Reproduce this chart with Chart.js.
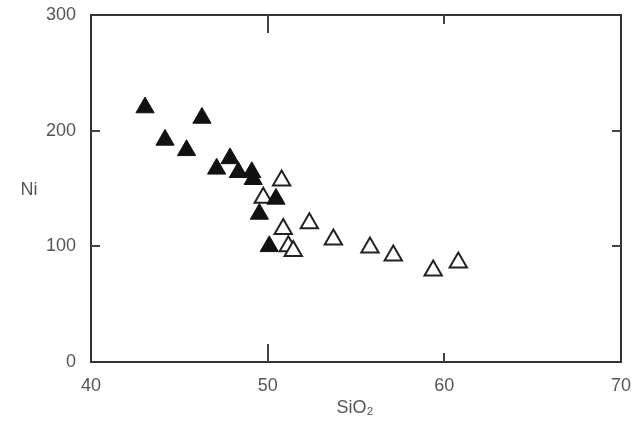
<!DOCTYPE html>
<html>
<head>
<meta charset="utf-8">
<script src="https://cdn.jsdelivr.net/npm/chart.js@4"></script>
<style>
  html, body { margin: 0; padding: 0; background: #fff; }
  #wrap { width: 642px; height: 425px; position: relative; }
</style>
</head>
<body>
<div id="wrap"><canvas id="c" width="642" height="425"></canvas></div>
<script>
// Filled triangles (group 1)
const filledSiO2 = [43.06, 46.28, 44.19, 45.41, 47.11, 47.87, 48.34, 49.1, 49.18, 50.47, 49.53, 50.09];
const filledNi   = [220,   211,   192,   183,   167,   176,   164,   164,  158,   141,   128,   100];
// Open triangles (group 2)
const openSiO2 = [50.79, 49.75, 50.88, 52.36, 51.17, 51.45, 53.72, 55.79, 57.11, 59.37, 60.79];
const openNi   = [157,   142,   115,   120,   100,   96,    106,   99,    92,    79,    86];
// Axis ticks
const xTicks = [40, 50, 60, 70];
const yTicks = [0, 100, 200, 300];
const xTitle = 'SiO₂';
const yTitle = 'Ni';

const toPts = (xs, ys) => xs.map((x, i) => ({ x: x, y: ys[i] }));

const frame = {
  id: 'frame',
  afterDraw(chart) {
    const { ctx, chartArea: a, scales } = chart;
    ctx.save();
    ctx.strokeStyle = '#333';
    ctx.lineWidth = 2;
    ctx.strokeRect(a.left, a.top, a.right - a.left, a.bottom - a.top);
    ctx.lineWidth = 2;
    ctx.strokeStyle = '#444';
    xTicks.slice(1, -1).forEach(v => {
      const px = Math.round(scales.x.getPixelForValue(v));
      const len = v === 50 ? 18 : 9;
      ctx.beginPath();
      ctx.moveTo(px, a.bottom); ctx.lineTo(px, a.bottom - len);
      ctx.moveTo(px, a.top); ctx.lineTo(px, a.top + len);
      ctx.stroke();
    });
    yTicks.slice(1, -1).forEach(v => {
      const py = Math.round(scales.y.getPixelForValue(v));
      ctx.beginPath();
      ctx.moveTo(a.left, py); ctx.lineTo(a.left + 9, py);
      ctx.moveTo(a.right, py); ctx.lineTo(a.right - 9, py);
      ctx.stroke();
    });
    ctx.fillStyle = '#555';
    ctx.font = '18px "Liberation Sans", Arial, sans-serif';
    ctx.textAlign = 'center';
    ctx.textBaseline = 'middle';
    ctx.fillText(yTitle, 29, 190);
    ctx.fillText(xTitle, 355, 408);
    ctx.restore();
  }
};

new Chart(document.getElementById('c'), {
  type: 'scatter',
  data: {
    datasets: [
      {
        label: 'filled',
        data: toPts(filledSiO2, filledNi),
        pointStyle: 'triangle',
        pointRadius: 10.5,
        pointHoverRadius: 10.5,
        backgroundColor: '#111',
        borderColor: '#111',
        borderWidth: 1
      },
      {
        label: 'open',
        data: toPts(openSiO2, openNi),
        pointStyle: 'triangle',
        pointRadius: 10,
        pointHoverRadius: 10,
        backgroundColor: '#fff',
        borderColor: '#222',
        borderWidth: 2
      }
    ]
  },
  options: {
    responsive: false,
    animation: false,
    events: [],
    layout: { padding: { left: 0, right: 21, top: 15, bottom: 0 } },
    plugins: { legend: { display: false }, tooltip: { enabled: false } },
    scales: {
      x: {
        type: 'linear',
        min: 40, max: 70,
        afterBuildTicks: s => { s.ticks = xTicks.map(v => ({ value: v })); },
        afterFit: s => { s.height = 63; s.paddingLeft = 0; s.paddingRight = 0; },
        grid: { display: false, drawTicks: false },
        border: { display: false },
        ticks: {
          color: '#555',
          padding: 13,
          maxRotation: 0,
          font: { size: 18, family: '"Liberation Sans", Arial, sans-serif' }
        }
      },
      y: {
        type: 'linear',
        min: 0, max: 300,
        afterBuildTicks: s => { s.ticks = yTicks.map(v => ({ value: v })); },
        afterFit: s => { s.width = 91; s.paddingTop = 0; s.paddingBottom = 0; },
        grid: { display: false, drawTicks: false },
        border: { display: false },
        ticks: {
          color: '#555',
          padding: 15,
          font: { size: 18, family: '"Liberation Sans", Arial, sans-serif' }
        }
      }
    }
  },
  plugins: [frame]
});
</script>
</body>
</html>
